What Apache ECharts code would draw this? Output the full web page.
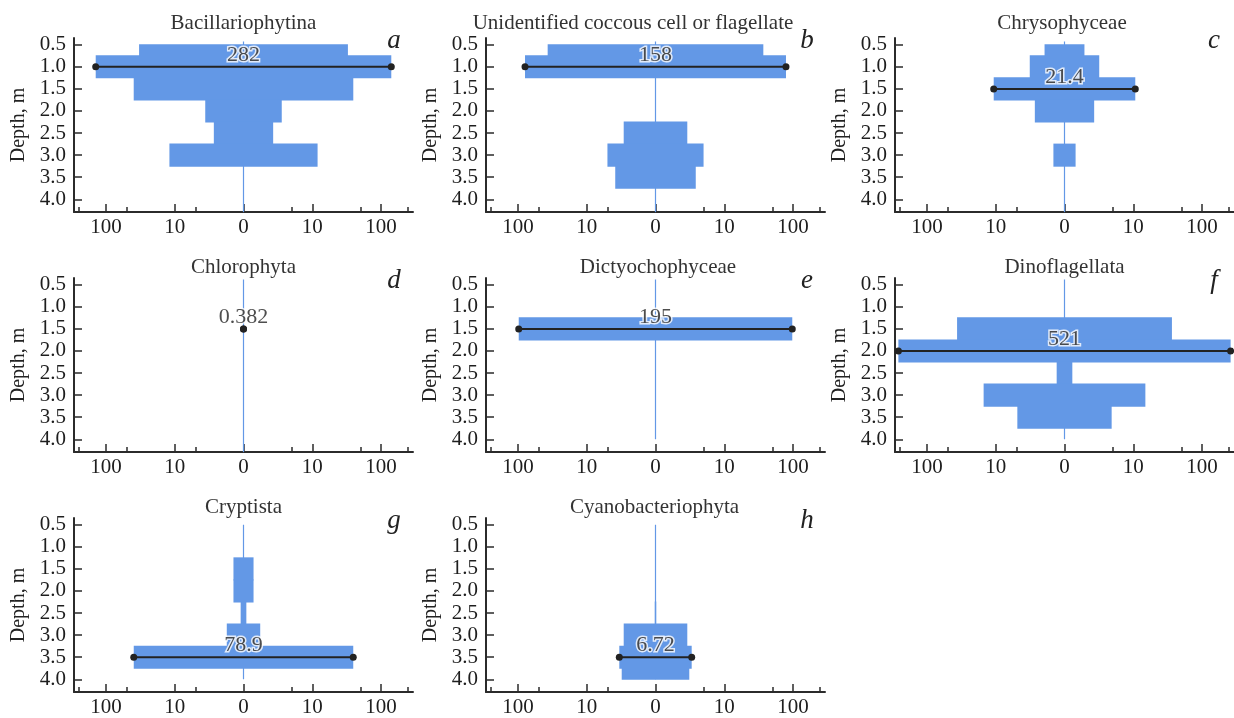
<!DOCTYPE html>
<html>
<head>
<meta charset="utf-8">
<script src="https://cdn.jsdelivr.net/npm/echarts@6/dist/echarts.min.js"></script>
<style>
  html, body { margin: 0; padding: 0; background: #fff; }
  #chart { width: 1234px; height: 718px; }
</style>
</head>
<body>
<div id="chart"></div>
<script>
// ---------------- data ----------------
const depths = [0.5, 1.0, 1.5, 2.0, 2.5, 3.0, 3.5, 4.0];
const taxa = ['Bacillariophytina', 'Unidentified coccous cell or flagellate', 'Chrysophyceae',
  'Chlorophyta', 'Dictyochophyceae', 'Dinoflagellata', 'Cryptista', 'Cyanobacteriophyta'];
const panelLetters = ['a', 'b', 'c', 'd', 'e', 'f', 'g', 'h'];
const bacillariophytina = [66, 282, 79, 7.2, 5.4, 23.9, 0, 0];
const unidentified = [74, 158, 0, 0, 5.8, 10, 7.7, 0];
const chrysophyceae = [3.9, 6.4, 21.4, 5.4, 0, 2.9, 0, 0];
const chlorophyta = [0, 0, 0.382, 0, 0, 0, 0, 0];
const dictyochophyceae = [0, 0, 195, 0, 0, 0, 0, 0];
const dinoflagellata = [0, 0, 73, 521, 2.6, 30, 9.7, 0];
const cryptista = [0, 0, 2.8, 2.8, 2.2, 3.5, 78.9, 0];
const cyanobacteriophyta = [0, 0, 0, 0, 2.05, 5.8, 6.72, 6.2];
const seriesValues = [bacillariophytina, unidentified, chrysophyceae, chlorophyta,
  dictyochophyceae, dinoflagellata, cryptista, cyanobacteriophyta];
const xTickValues = [-2, -1, 0, 1, 2];
const xTickLabels = ['100', '10', '0', '10', '100'];
const xMinorTickValues = [-2.39, -1.7, -0.7, 0.7, 1.7, 2.39];
const yTickValues = [0.5, 1.0, 1.5, 2.0, 2.5, 3.0, 3.5, 4.0];

// ---------------- layout / style ----------------
const FONT = 'Liberation Serif';
const BAR = '#6398e6';
const AX = '#2b2b2b';
const colLeft = [74, 486, 895];
const rowTop = [38, 278, 518];
const GW = 339, GH = 174;
const XMIN = -2.465, XMAX = 2.465;
const YMIN = 0.348, YMAX = 4.287;
const titleX = [243.5, 633, 1062, 243.5, 658, 1064.5, 243.5, 654.5];
const titleY = [23, 23, 23, 267, 267, 267, 507, 507, 507];
const centerLineSpan = [[0.43, 4.29], [0.43, 4.29], [0.43, 4.29], [0.38, 4.29],
  [0.38, 4.0], [0.38, 4.0], [0.5, 4.0], [0.5, 4.0]];

// symmetric log half-width of a kite step (value split on both sides)
function halfWidth(v) {
  const h = v / 2;
  return h > 1 ? Math.log10(h) : 0;
}

const grids = [], xAxes = [], xMinorAxes = [], yAxes = [], series = [], graphics = [];

seriesValues.forEach((vals, i) => {
  const r = Math.floor(i / 3), c = i % 3;
  grids.push({ left: colLeft[c], top: rowTop[r], width: GW, height: GH, containLabel: false });
  xAxes.push({
    type: 'value', gridIndex: i, min: XMIN, max: XMAX, position: 'bottom',
    axisLine: { show: true, onZero: false, lineStyle: { color: AX, width: 2 } },
    axisTick: { show: true, inside: true, length: 8, customValues: xTickValues, lineStyle: { color: AX, width: 1.5 } },
    axisLabel: {
      show: true, customValues: xTickValues, margin: 5,
      fontFamily: FONT, fontSize: 21, color: '#1e1e1e',
      formatter: v => xTickLabels[xTickValues.indexOf(Math.round(v))]
    },
    splitLine: { show: false }
  });
  xMinorAxes.push({
    type: 'value', gridIndex: i, min: XMIN, max: XMAX, position: 'bottom',
    axisLine: { show: false, onZero: false },
    axisTick: { show: true, inside: true, length: 5, customValues: xMinorTickValues, lineStyle: { color: AX, width: 1.5 } },
    axisLabel: { show: false },
    splitLine: { show: false }
  });
  yAxes.push({
    type: 'value', gridIndex: i, inverse: true, min: YMIN, max: YMAX,
    name: 'Depth, m', nameLocation: 'middle', nameGap: 45,
    nameTextStyle: { fontFamily: FONT, fontSize: 20, color: '#222' },
    axisLine: { show: true, onZero: false, lineStyle: { color: AX, width: 2 } },
    axisTick: { show: true, inside: true, length: 8, customValues: yTickValues, lineStyle: { color: AX, width: 1.5 } },
    axisLabel: {
      show: true, customValues: yTickValues, margin: 8,
      fontFamily: FONT, fontSize: 21, color: '#1e1e1e',
      formatter: v => v.toFixed(1)
    },
    splitLine: { show: false }
  });

  // center line
  series.push({
    type: 'line', xAxisIndex: i, yAxisIndex: i, symbol: 'none', silent: true,
    data: [[0, centerLineSpan[i][0]], [0, centerLineSpan[i][1]]],
    lineStyle: { color: BAR, width: 1.2 }, z: 1
  });
  // kite steps
  series.push({
    type: 'custom', xAxisIndex: i, yAxisIndex: i, silent: true, z: 2,
    data: depths.map((d, k) => [d, vals[k]]),
    renderItem: (params, api) => {
      const d = api.value(0), v = api.value(1);
      const w = halfWidth(v);
      if (w <= 0) return null;
      const y0 = Math.max(0.5, d - 0.25), y1 = Math.min(4.0, d + 0.25);
      const p0 = api.coord([-w, y0]), p1 = api.coord([w, y1]);
      const top = Math.min(p0[1], p1[1]), h = Math.abs(p1[1] - p0[1]);
      return {
        type: 'rect',
        shape: { x: Math.min(p0[0], p1[0]), y: top - 0.5,
                 width: Math.abs(p1[0] - p0[0]), height: h + 1 },
        style: { fill: BAR }
      };
    }
  });
  // max line with end dots
  let kMax = 0;
  vals.forEach((v, k) => { if (v > vals[kMax]) kMax = k; });
  const wMax = halfWidth(vals[kMax]);
  series.push({
    type: 'line', xAxisIndex: i, yAxisIndex: i, silent: true, z: 3,
    data: [[-wMax, depths[kMax]], [wMax, depths[kMax]]],
    symbol: 'circle', symbolSize: 7, showSymbol: true,
    itemStyle: { color: '#222' }, lineStyle: { color: '#222', width: 2 }
  });
  // value label
  series.push({
    type: 'scatter', xAxisIndex: i, yAxisIndex: i, silent: true, z: 4,
    symbolSize: 0,
    data: [[0, depths[kMax]]],
    label: {
      show: true, position: 'inside', offset: [0, -12],
      formatter: () => String(Number(vals[kMax].toPrecision(3))),
      fontFamily: FONT, fontSize: 22, color: '#222',
      textBorderColor: '#fff', textBorderWidth: 3
    }
  });

  graphics.push({
    type: 'text', x: titleX[i], y: titleY[i], silent: true,
    style: { text: taxa[i], font: '21px "' + FONT + '"', fill: '#333',
             textAlign: 'center', align: 'center', textVerticalAlign: 'middle', verticalAlign: 'middle' }
  });
  const letterX = [394, 807, 1214][c];
  graphics.push({
    type: 'text', x: letterX, y: rowTop[r] + 3, silent: true,
    style: { text: panelLetters[i], font: 'italic 27px "' + FONT + '"', fill: '#222',
             textAlign: 'center', align: 'center', textVerticalAlign: 'middle', verticalAlign: 'middle' }
  });
});

const chart = echarts.init(document.getElementById('chart'), null, { renderer: 'canvas' });
chart.setOption({
  backgroundColor: '#fff',
  animation: false,
  grid: grids,
  xAxis: xAxes.concat(xMinorAxes),
  yAxis: yAxes,
  series: series,
  graphic: graphics
});
</script>
</body>
</html>
